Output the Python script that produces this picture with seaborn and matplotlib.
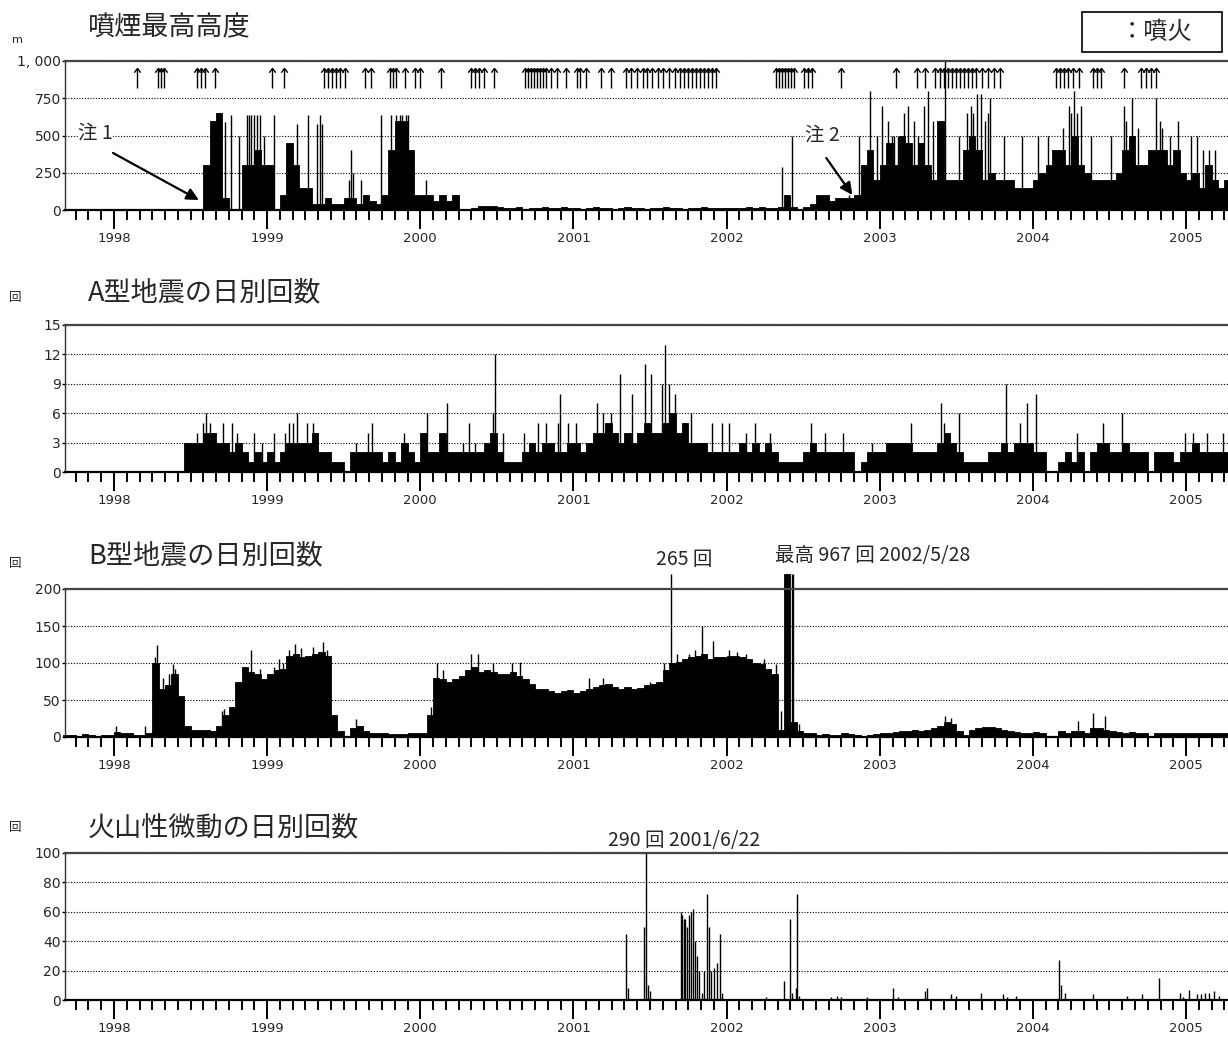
import numpy as np
import pandas as pd
import matplotlib
matplotlib.use('Agg')
import matplotlib.pyplot as plt
import seaborn as sns
from matplotlib.ticker import MultipleLocator, FuncFormatter
from matplotlib.patches import Rectangle
from matplotlib.path import Path

# half-month values, first bin starts 1997-09-01 (1997: Sep-Dec, 2005: Jan-Apr)
T_START = 1997 + 8 / 12

plume_base = [
    0, 0, 0, 0, 0, 0, 0, 0,                                                          # 1997
    0, 0, 0, 0, 0, 0, 0, 0, 0, 0, 0, 0, 0, 0, 300, 600, 650, 80, 0, 0, 300, 300, 400, 300,  # 1998
    300, 0, 100, 450, 300, 150, 150, 40, 40, 80, 40, 40, 80, 80, 40, 100, 60, 40, 100, 400, 600, 600, 400, 100,  # 1999
    100, 100, 60, 100, 60, 100, 0, 0, 15, 30, 30, 30, 20, 15, 15, 20, 10, 15, 15, 20, 15, 15, 20, 15,  # 2000
    15, 10, 15, 20, 15, 15, 10, 15, 20, 15, 15, 10, 15, 15, 20, 15, 15, 10, 15, 15, 20, 15, 15, 15,  # 2001
    15, 15, 15, 20, 15, 20, 15, 15, 20, 100, 20, 0, 20, 40, 100, 100, 60, 80, 80, 80, 100, 300, 400, 200,  # 2002
    300, 450, 300, 500, 450, 300, 450, 300, 200, 600, 200, 200, 200, 400, 500, 400, 200, 250, 200, 200, 200, 150, 150, 150,  # 2003
    200, 250, 300, 400, 400, 300, 500, 300, 250, 200, 200, 200, 200, 250, 400, 500, 300, 300, 400, 400, 400, 300, 400, 250,  # 2004
    200, 250, 150, 300, 200, 150, 200, 200,                                          # 2005
]
plume_spikes = [
    (1998.727, 590), (1998.766, 640), (1998.815, 500), (1998.866, 640), (1998.882, 640),
    (1998.892, 640), (1998.913, 640), (1998.934, 640), (1998.952, 640), (1998.977, 500),
    (1999.042, 640), (1999.196, 580), (1999.269, 640), (1999.325, 580), (1999.346, 640),
    (1999.356, 580), (1999.537, 200), (1999.550, 400), (1999.563, 250), (1999.614, 200),
    (1999.746, 640), (1999.810, 640), (1999.841, 640), (1999.867, 640), (1999.880, 640),
    (1999.905, 640), (1999.918, 640), (2000.034, 200),
    (2002.361, 290), (2002.425, 500), (2002.798, 100), (2002.862, 500), (2002.939, 800),
    (2002.985, 500), (2003.016, 700), (2003.055, 600), (2003.081, 500), (2003.093, 500),
    (2003.119, 500), (2003.158, 650), (2003.183, 700), (2003.222, 600), (2003.248, 500),
    (2003.286, 700), (2003.312, 800), (2003.351, 600), (2003.423, 1000), (2003.518, 500),
    (2003.569, 650), (2003.595, 700), (2003.608, 650), (2003.633, 780), (2003.659, 780),
    (2003.685, 600), (2003.705, 650), (2003.723, 750), (2003.813, 500), (2003.929, 500),
    (2004.032, 500), (2004.096, 500), (2004.199, 550), (2004.238, 700), (2004.250, 650),
    (2004.271, 800), (2004.289, 650), (2004.315, 700), (2004.379, 500), (2004.508, 500),
    (2004.598, 700), (2004.611, 600), (2004.649, 750), (2004.688, 550), (2004.803, 750),
    (2004.829, 600), (2004.842, 550), (2004.893, 500), (2004.945, 600), (2005.035, 500),
    (2005.073, 500), (2005.112, 400), (2005.150, 400), (2005.189, 400),
]
eruptions = [
    1998.150, 1998.287, 1998.307, 1998.326, 1998.541, 1998.567, 1998.594, 1998.659,
    1999.031, 1999.109, 1999.370, 1999.396, 1999.422, 1999.448, 1999.474, 1999.507,
    1999.637, 1999.676, 1999.800, 1999.820, 1999.840, 1999.898, 1999.963, 1999.996,
    2000.133, 2000.329, 2000.355, 2000.381, 2000.414, 2000.479, 2000.681, 2000.701,
    2000.720, 2000.740, 2000.759, 2000.779, 2000.798, 2000.818, 2000.851, 2000.890,
    2000.949, 2001.020, 2001.046, 2001.079, 2001.177, 2001.242, 2001.346, 2001.379,
    2001.412, 2001.451, 2001.483, 2001.510, 2001.549, 2001.588, 2001.627, 2001.666,
    2001.699, 2001.725, 2001.751, 2001.777, 2001.803, 2001.829, 2001.855, 2001.881,
    2001.907, 2001.933, 2002.325, 2002.344, 2002.364, 2002.384, 2002.403, 2002.423,
    2002.442, 2002.508, 2002.534, 2002.560, 2002.749, 2003.108, 2003.245, 2003.297,
    2003.362, 2003.395, 2003.421, 2003.447, 2003.473, 2003.499, 2003.525, 2003.551,
    2003.577, 2003.603, 2003.630, 2003.669, 2003.708, 2003.747, 2003.786, 2004.151,
    2004.177, 2004.204, 2004.230, 2004.262, 2004.301, 2004.393, 2004.419, 2004.445,
    2004.595, 2004.706, 2004.738, 2004.771, 2004.804,
]

a_quake_base = [
    0, 0, 0, 0, 0, 0, 0, 0,
    0, 0, 0, 0, 0, 0, 0, 0, 0, 0, 0, 3, 3, 3, 4, 4, 3, 3, 2, 3, 2, 1, 2, 1,
    2, 1, 2, 3, 3, 3, 3, 4, 2, 2, 1, 1, 0, 2, 2, 2, 2, 2, 1, 2, 1, 3, 2, 1,
    4, 2, 2, 4, 2, 2, 2, 2, 2, 2, 3, 4, 2, 1, 1, 1, 2, 3, 2, 3, 3, 2, 2, 3,
    3, 2, 3, 4, 4, 5, 4, 3, 4, 3, 4, 5, 4, 4, 5, 6, 4, 5, 3, 3, 3, 2, 2, 2,
    2, 2, 3, 2, 3, 2, 3, 2, 1, 1, 1, 1, 2, 3, 2, 2, 2, 2, 2, 2, 0, 1, 2, 2,
    2, 3, 3, 3, 3, 2, 2, 2, 2, 3, 4, 3, 2, 1, 1, 1, 1, 2, 2, 3, 2, 3, 3, 3,
    2, 2, 0, 0, 1, 2, 1, 2, 0, 2, 3, 3, 2, 2, 3, 2, 2, 2, 0, 2, 2, 2, 1, 2,
    2, 3, 2, 2, 2, 2, 2, 2,
]
a_quake_spikes = [
    (1998.539, 4), (1998.583, 5), (1998.598, 6), (1998.629, 5), (1998.650, 4), (1998.714, 5),
    (1998.771, 5), (1998.805, 4), (1998.913, 4), (1998.965, 3), (1999.042, 4), (1999.119, 4),
    (1999.145, 5), (1999.171, 5), (1999.196, 6), (1999.261, 5), (1999.300, 5), (1999.325, 4),
    (1999.583, 3), (1999.660, 4), (1999.686, 5), (1999.893, 4), (2000.047, 6), (2000.176, 7),
    (2000.279, 3), (2000.318, 5), (2000.357, 3), (2000.473, 6), (2000.486, 12), (2000.537, 4),
    (2000.679, 4), (2000.769, 5), (2000.821, 5), (2000.898, 5), (2000.911, 8), (2000.962, 5),
    (2001.014, 5), (2001.156, 7), (2001.194, 6), (2001.246, 6), (2001.268, 4), (2001.306, 10),
    (2001.383, 8), (2001.468, 11), (2001.507, 10), (2001.576, 9), (2001.597, 13), (2001.623, 9),
    (2001.666, 8), (2001.718, 5), (2001.769, 6), (2001.905, 5), (2001.970, 5), (2002.013, 5),
    (2002.129, 4), (2002.188, 5), (2002.283, 4), (2002.553, 5), (2002.643, 4), (2002.759, 4),
    (2002.952, 3), (2003.201, 5), (2003.397, 7), (2003.420, 5), (2003.518, 6), (2003.826, 9),
    (2003.916, 5), (2003.962, 7), (2004.019, 8), (2004.289, 4), (2004.456, 5), (2004.580, 6),
    (2004.996, 4), (2005.048, 4), (2005.138, 4), (2005.241, 4),
]

b_quake_base = [
    3, 3, 2, 4, 3, 2, 3, 3,
    7, 6, 5, 3, 3, 5, 100, 65, 70, 85, 55, 15, 10, 9, 9, 8, 15, 30, 40, 75, 95, 88, 85, 78,
    85, 90, 92, 110, 112, 108, 110, 112, 115, 110, 30, 8, 2, 12, 15, 8, 6, 5, 5, 4, 4, 4, 6, 5,
    5, 30, 80, 78, 75, 78, 82, 90, 95, 88, 90, 88, 85, 85, 88, 82, 78, 72, 65, 65, 62, 60, 62, 63,
    60, 62, 65, 68, 70, 72, 68, 65, 68, 65, 66, 70, 72, 75, 90, 100, 102, 105, 108, 110, 112, 105, 108, 108,
    110, 110, 108, 105, 100, 98, 92, 85, 10, 967, 20, 8, 6, 5, 3, 4, 3, 3, 5, 4, 3, 2, 3, 4,
    5, 6, 7, 8, 8, 9, 8, 10, 12, 15, 20, 18, 8, 3, 10, 12, 13, 14, 12, 10, 8, 7, 6, 6,
    7, 5, 0, 2, 8, 6, 8, 8, 5, 12, 12, 10, 8, 7, 6, 7, 6, 5, 2, 5, 6, 6, 6, 5,
    5, 6, 5, 6, 5, 6, 5, 5,
]
b_quake_spikes = [
    (1998.011, 15), (1998.204, 15), (1998.268, 108), (1998.281, 125), (1998.320, 80),
    (1998.359, 85), (1998.384, 98), (1998.397, 92), (1998.707, 35), (1998.720, 38),
    (1998.892, 117), (1998.952, 92), (1999.042, 95), (1999.080, 105), (1999.106, 100),
    (1999.145, 118), (1999.184, 126), (1999.222, 120), (1999.300, 122), (1999.364, 128),
    (1999.390, 118), (1999.583, 25), (2000.073, 40), (2000.112, 100), (2000.150, 90),
    (2000.331, 112), (2000.377, 112), (2000.473, 100), (2000.602, 100), (2000.653, 102),
    (2001.104, 80), (2001.194, 80), (2001.499, 75), (2001.589, 100), (2001.635, 265),
    (2001.679, 112), (2001.756, 112), (2001.795, 118), (2001.841, 150), (2001.911, 130),
    (2002.013, 118), (2002.065, 115), (2002.129, 112), (2002.245, 105), (2002.322, 98),
    (2002.353, 35), (2002.425, 500), (2002.435, 500), (2002.471, 18), (2003.428, 28),
    (2003.466, 26), (2004.294, 22), (2004.392, 32), (2004.469, 28),
]

tremor_spikes = [
    (2001.340, 45), (2001.358, 8), (2001.461, 50), (2001.473, 290), (2001.486, 10), (2001.499, 6),
    (2001.700, 60), (2001.710, 58), (2001.720, 55), (2001.731, 55), (2001.743, 50), (2001.756, 58),
    (2001.769, 60), (2001.782, 62), (2001.795, 40), (2001.808, 30), (2001.821, 20), (2001.839, 5),
    (2001.854, 20), (2001.872, 72), (2001.885, 50), (2001.898, 20), (2001.916, 22), (2001.936, 25),
    (2001.957, 45), (2001.970, 5), (2002.258, 2), (2002.373, 13), (2002.412, 55), (2002.425, 5),
    (2002.451, 8), (2002.461, 72), (2002.476, 3), (2002.682, 2), (2002.721, 3), (2002.746, 2),
    (2002.785, 1), (2002.918, 2), (2003.088, 8), (2003.119, 2), (2003.294, 6), (2003.307, 8),
    (2003.466, 4), (2003.500, 3), (2003.659, 5), (2003.808, 4), (2003.834, 2), (2003.891, 3),
    (2004.045, 1), (2004.173, 27), (2004.186, 10), (2004.212, 5), (2004.392, 4), (2004.616, 3),
    (2004.713, 4), (2004.824, 15), (2004.963, 5), (2004.983, 2), (2005.022, 7), (2005.073, 4),
    (2005.099, 4), (2005.125, 5), (2005.150, 5), (2005.184, 6), (2005.215, 3),
]

titles = ['噴煙最高高度', 'A型地震の日別回数', 'B型地震の日別回数', '火山性微動の日別回数']

sns.set_theme(style='white')
plt.rcParams['font.family'] = ['Noto Sans CJK JP', 'DejaVu Sans']

W, H = 1228, 1037
fig = plt.figure(figsize=(W / 100, H / 100), dpi=100)


def make_axes(top, bottom):
    return fig.add_axes([65 / W, 1 - bottom / H, 1 - 65 / W, (bottom - top) / H])


def draw_panel(ax, base, spikes, ymax, cap, yticks, ylabels):
    clip = cap <= ymax
    if base is not None:
        v = np.minimum(np.asarray(base, float), cap)
        edges = T_START + np.arange(len(v) + 1) / 24
        df = pd.DataFrame({'t': edges[:-1] + 1 / 48, 'v': v})
        sns.histplot(data=df, x='t', weights='v', bins=edges.tolist(), ax=ax,
                     element='step', fill=True, color='black', alpha=1,
                     linewidth=0.6, legend=False)
    t = [s[0] for s in spikes]
    h = np.minimum([s[1] for s in spikes], cap)
    ax.vlines(t, 0, h, colors='black', linewidth=1.0)
    for art in ax.collections + ax.patches + ax.lines:
        art.set_clip_on(clip)

    ax.set_xlim(1997.68, 2005.274)
    ax.set_ylim(0, ymax)
    ax.set_xlabel('')
    ax.set_ylabel('')
    ax.xaxis.set_major_locator(MultipleLocator(1))
    ax.xaxis.set_minor_locator(MultipleLocator(1 / 12))
    ax.xaxis.set_major_formatter(FuncFormatter(lambda x, p: f'{x:.0f}'))
    ax.tick_params(axis='x', which='major', direction='out', bottom=True,
                   length=14, width=1.4, pad=2, labelsize=9.5, color='black')
    ax.tick_params(axis='x', which='minor', direction='out', bottom=True,
                   length=7.5, width=1.4, color='black')
    ax.set_yticks(yticks)
    ax.set_yticklabels(ylabels)
    ax.tick_params(axis='y', direction='out', left=True, length=2, width=1,
                   pad=1, labelsize=10, color='black')
    for lab in ax.get_xticklabels() + ax.get_yticklabels():
        lab.set_family('DejaVu Sans')
    ax.grid(axis='y', linestyle=(0, (1, 1.5)), color='black', linewidth=0.8)
    ax.grid(axis='x', visible=False)
    ax.set_axisbelow(True)
    ax.spines['right'].set_visible(False)
    ax.spines['top'].set_color('#444444')
    ax.spines['top'].set_linewidth(1.6)
    ax.spines['bottom'].set_color('black')
    ax.spines['bottom'].set_linewidth(1.6)
    ax.spines['left'].set_color('#333333')
    ax.spines['left'].set_linewidth(1.0)


ax1 = make_axes(61, 210)
ax2 = make_axes(325, 472)
ax3 = make_axes(589, 737)
ax4 = make_axes(853, 1000)

draw_panel(ax1, plume_base, plume_spikes, 1000, 1000,
           [0, 250, 500, 750, 1000], ['0', '250', '500', '750', '1, 000'])
draw_panel(ax2, a_quake_base, a_quake_spikes, 15, 15,
           [0, 3, 6, 9, 12, 15], ['0', '3', '6', '9', '12', '15'])
draw_panel(ax3, b_quake_base, b_quake_spikes, 200, 220,
           [0, 50, 100, 150, 200], ['0', '50', '100', '150', '200'])
draw_panel(ax4, None, tremor_spikes, 100, 100,
           [0, 20, 40, 60, 80, 100], ['0', '20', '40', '60', '80', '100'])

# eruption markers: thin stem with an open arrow head
head = Path([(-1, -1.3), (0, 0), (1, -1.3)], [Path.MOVETO, Path.LINETO, Path.LINETO])
ax1.vlines(eruptions, 820, 950, colors='black', linewidth=1.0)
ax1.plot(eruptions, [950] * len(eruptions), linestyle='none', marker=head,
         markersize=6, markerfacecolor='none', markeredgecolor='black',
         markeredgewidth=1.0)

# notes
ax1.text(1997.88, 517, '注 1', ha='center', va='center', fontsize=14,
         bbox=dict(facecolor='white', edgecolor='none', pad=0))
ax1.annotate('', xy=(1998.554, 67), xytext=(1997.993, 383),
             arrowprops=dict(arrowstyle='-|>', color='black', lw=1.6,
                             mutation_scale=18, shrinkA=0, shrinkB=0))
ax1.text(2002.625, 503, '注 2', ha='center', va='center', fontsize=14,
         bbox=dict(facecolor='white', edgecolor='none', pad=0))
ax1.annotate('', xy=(2002.821, 101), xytext=(2002.651, 349),
             arrowprops=dict(arrowstyle='-|>', color='black', lw=1.6,
                             mutation_scale=18, shrinkA=0, shrinkB=0))

ax3.text(2001.72, 1.196, '265 回', transform=ax3.get_xaxis_transform(),
         ha='center', va='center', fontsize=14)
ax3.text(2002.318, 1.223, '最高 967 回 2002/5/28', transform=ax3.get_xaxis_transform(),
         ha='left', va='center', fontsize=14)
ax4.text(2001.722, 1.088, '290 回 2001/6/22', transform=ax4.get_xaxis_transform(),
         ha='center', va='center', fontsize=14)

# titles and units
for title, y in zip(titles, [28, 293, 556, 828]):
    fig.text(88 / W, 1 - y / H, title, ha='left', va='center', fontsize=19.5)
fig.text(12 / W, 1 - 40 / H, 'm', ha='left', va='center', fontsize=8, family='DejaVu Sans')
for y in [298, 563, 828]:
    fig.text(15 / W, 1 - y / H, '回', ha='center', va='center', fontsize=9)

# legend box
fig.patches.append(Rectangle((1082 / W, 1 - 52 / H), 140 / W, 40 / H,
                             transform=fig.transFigure, fill=False,
                             edgecolor='black', linewidth=1.2))
fig.text(1156 / W, 1 - 32 / H, '：噴火', ha='center', va='center', fontsize=17.5)

fig.savefig('out.png', dpi=100)
